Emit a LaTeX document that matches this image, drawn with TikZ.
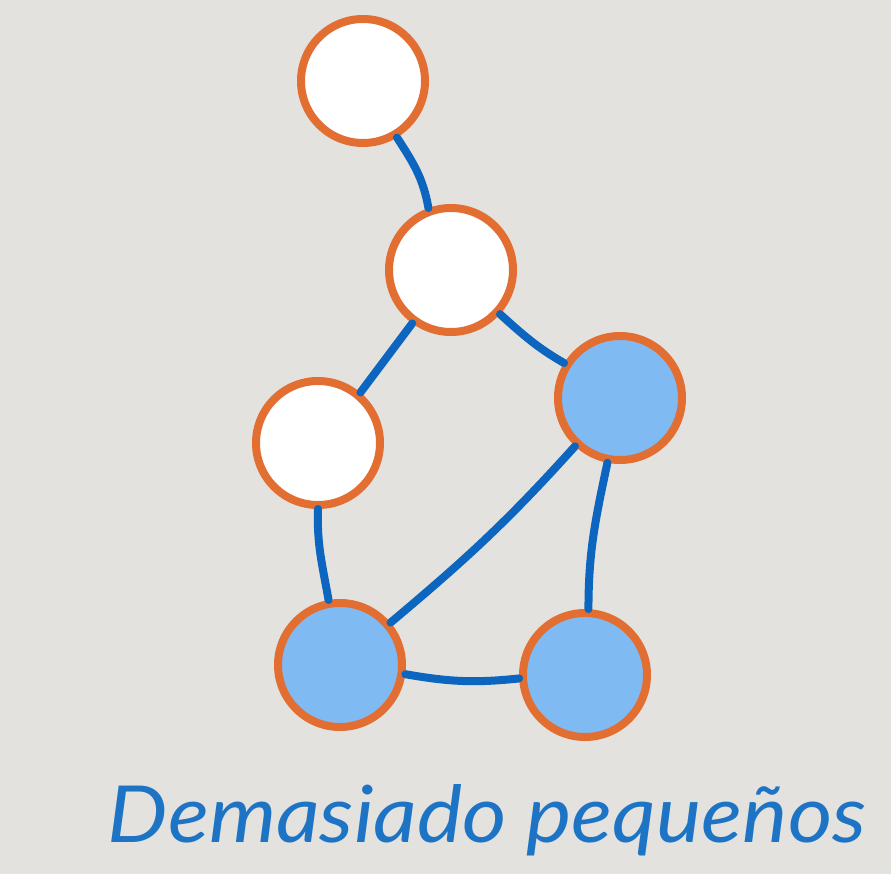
\documentclass[tikz,border=0pt]{standalone}
\usepackage{fontspec}
\newfontfamily\capfont{Lato}
\definecolor{bgc}{RGB}{228,226,223}
\definecolor{ring}{RGB}{226,110,50}
\definecolor{edgec}{RGB}{12,102,192}
\definecolor{fillb}{RGB}{128,186,242}
\definecolor{txtc}{RGB}{30,116,196}
\begin{document}
\begin{tikzpicture}[x=1pt,y=1pt,
  vtx/.style={circle,draw=ring,line width=8pt,minimum size=124pt,inner sep=0pt,fill=white},
  hot/.style={vtx,fill=fillb},
  link/.style={draw=edgec,line width=8pt,line cap=round}]
\fill[bgc] (0,0) rectangle (891,-874);
\useasboundingbox (0,0) rectangle (891,-874);
\node[vtx] (a) at (363,-81) {};
\node[vtx] (b) at (451,-270) {};
\node[vtx] (c) at (318,-443) {};
\node[hot] (d) at (620,-398) {};
\node[hot] (e) at (340,-665) {};
\node[hot] (f) at (585,-675) {};
\path[link] (a.-59) to[out=-57,in=100] (b.110);
\path[link] (b.234) -- (c.50);
\path[link] (b.-42) to[out=-42,in=150] (d.148);
\path[link] (d.227) to[out=228,in=40] (e.40);
\path[link] (d.259) to[out=258,in=90] (f.87);
\path[link] (c.270) to[out=-92,in=100] (e.100);
\path[link] (e.-8) to[out=-10,in=186] (f.183);
\node[anchor=base,inner sep=0pt,text=txtc] (t) at (487,-842)
  {\resizebox{758pt}{58pt}{\capfont\itshape Demasiado pequeños}};
\end{tikzpicture}
\end{document}
